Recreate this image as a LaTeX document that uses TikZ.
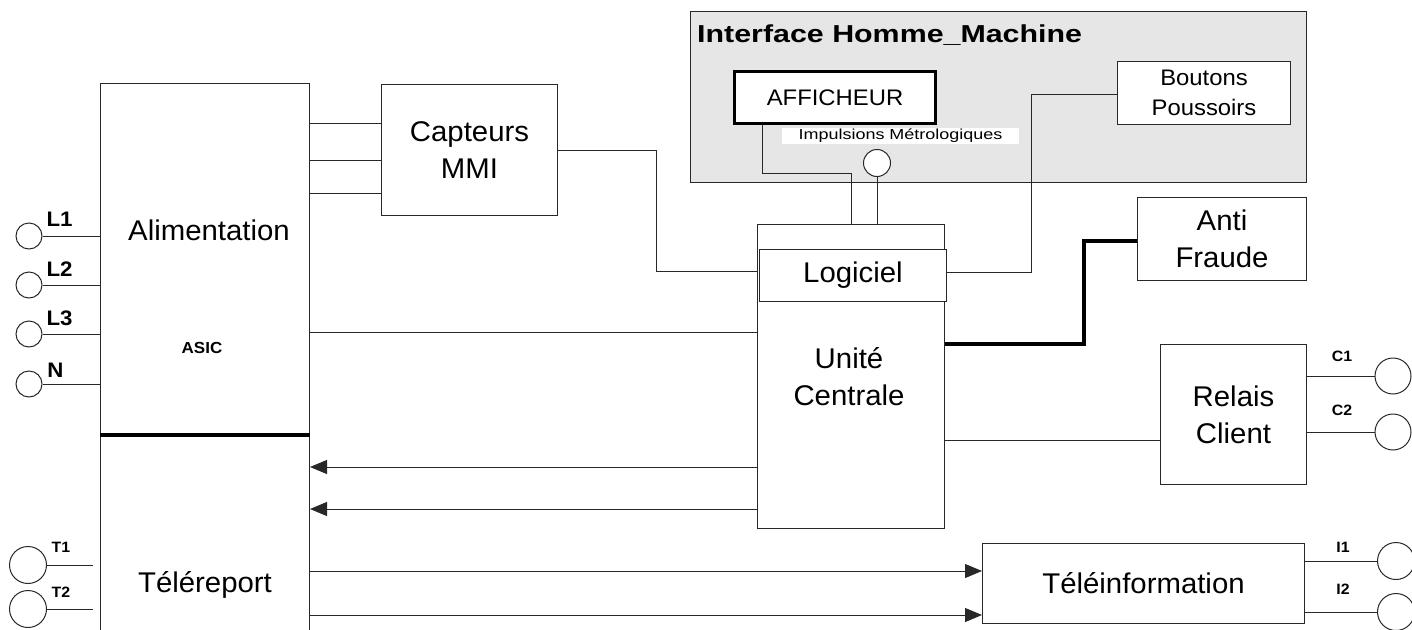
\documentclass[tikz,border=0pt]{standalone}
\usepackage{fontspec}
\setmainfont{Liberation Sans}
\newfontfamily\lab[FakeStretch=1.03]{Liberation Sans}
\newfontfamily\labm[FakeStretch=1.06]{Liberation Sans}
\newfontfamily\labw[FakeStretch=1.24]{Liberation Sans}
\usetikzlibrary{arrows.meta,calc}
\definecolor{ihmgray}{RGB}{230,230,230}
\definecolor{ln}{RGB}{40,40,40}
\begin{document}
\begin{tikzpicture}[x=1pt,y=-1pt,
  box/.style={draw=ln,line width=1pt,fill=white,inner sep=0pt,anchor=north west},
  wire/.style={draw=ln,line width=1pt},
  thickwire/.style={draw=black,line width=4pt,line join=miter},
  arr/.style={wire,-{Triangle[length=17pt,width=14pt]}},
  port/.style={circle,draw=ln,line width=1pt,fill=white,inner sep=0pt},
  big/.style={font=\lab\fontsize{28.5}{37}\selectfont,align=center},
  mid/.style={font=\labm\fontsize{22.5}{30}\selectfont,align=center},
  plab/.style={font=\labm\bfseries\fontsize{21}{24}\selectfont,inner sep=0pt},
  slab/.style={font=\labm\bfseries\fontsize{15}{17}\selectfont,inner sep=0pt}
]
\useasboundingbox (0,0) rectangle (1412,629);
\clip (0,0) rectangle (1412,629);

% Interface Homme_Machine frame
\node[box,fill=ihmgray,minimum width=616pt,minimum height=171pt] (ihm) at (690,11) {};
\node[font=\labw\bfseries\fontsize{24.5}{28}\selectfont,anchor=west,inner sep=0pt] (ihmtitle) at (697,35) {Interface Homme\_Machine};
\node[fill=white,inner sep=0pt,minimum width=237pt,minimum height=16pt,font=\labw\fontsize{14.5}{16}\selectfont] (implab) at (900.5,136) {Impulsions Métrologiques};

% main boxes
\node[box,minimum width=209pt,minimum height=351pt] (alim) at (100,83) {};
\node[box,minimum width=209pt,minimum height=230pt] (telerep) at (100,434) {};
\node[box,minimum width=176pt,minimum height=131pt,big] (capt) at (381,84) {};
\node[box,minimum width=187pt,minimum height=304pt] (uc) at (757,224) {};
\node[box,minimum width=187pt,minimum height=52pt,big] (logi) at (759,249) {Logiciel};
\node[box,minimum width=201pt,minimum height=52pt,line width=3pt,draw=black,mid] (aff) at (733,70) {AFFICHEUR};
\node[box,minimum width=173pt,minimum height=63pt,mid] (bout) at (1117,61) {Boutons\\Poussoirs};
\node[box,minimum width=169pt,minimum height=83pt,big] (anti) at (1137,197) {Anti\\Fraude};
\node[box,minimum width=146pt,minimum height=140pt,big] (relais) at (1160,344) {Relais\\Client};
\node[box,minimum width=322pt,minimum height=80pt,big] (teli) at (982,543) {Téléinformation};
\node[big] (capttxt) at (capt.center) {Capteurs\\MMI};

% texts inside large boxes
\node[big] (alimtxt) at (209,230) {Alimentation};
\node[font=\labm\bfseries\fontsize{16}{19}\selectfont] (asic) at (202,348) {ASIC};
\node[big] (teletxt) at (205,585) {Téléreport};
\node[big] (uctxt) at (849,377) {Unité\\Centrale};

% ports
\node[port,minimum size=27pt] (imp) at (877,163) {};
\node[port,minimum size=26pt] (l1) at (29,236) {};
\node[port,minimum size=26pt] (l2) at (29,285) {};
\node[port,minimum size=26pt] (l3) at (29,334) {};
\node[port,minimum size=26pt] (nn) at (29,384) {};
\node[port,minimum size=37pt] (t1) at (28,565) {};
\node[port,minimum size=37pt] (t2) at (28,609) {};
\node[port,minimum size=36pt] (c1) at (1393,376) {};
\node[port,minimum size=36pt] (c2) at (1393,432) {};
\node[port,minimum size=37pt] (i1) at (1396,561) {};
\node[port,minimum size=37pt] (i2) at (1396,612) {};
\coordinate (t1end) at (93,565);
\coordinate (t2end) at (93,609);

% port labels
\node[plab] (l1t) at (59.5,219) {L1};
\node[plab] (l2t) at (59.5,269) {L2};
\node[plab] (l3t) at (59.5,318) {L3};
\node[plab] (nt) at (55.5,370) {N};
\node[slab] (t1t) at (61,547) {T1};
\node[slab] (t2t) at (61,592) {T2};
\node[slab] (c1t) at (1342,356) {C1};
\node[slab] (c2t) at (1342,410) {C2};
\node[slab] (i1t) at (1343,547) {I1};
\node[slab] (i2t) at (1343,589) {I2};

% connectors
\draw[wire] (l1.east) -- (alim.west |- l1.east);
\draw[wire] (l2.east) -- (alim.west |- l2.east);
\draw[wire] (l3.east) -- (alim.west |- l3.east);
\draw[wire] (nn.east) -- (alim.west |- nn.east);
\draw[wire] (t1.east) -- (t1end);
\draw[wire] (t2.east) -- (t2end);

\draw[wire] (alim.east |- 0,123) -- (capt.west |- 0,123);
\draw[wire] (alim.east |- 0,160) -- (capt.west |- 0,160);
\draw[wire] (alim.east |- 0,193) -- (capt.west |- 0,193);
\draw[wire] (capt.east |- 0,150) -| (656,271) -- (uc.west |- 0,271);
\draw[wire] (alim.east |- 0,332) -- (uc.west |- 0,332);
\draw[arr] (uc.west |- 0,467) -- (telerep.east |- 0,467);
\draw[arr] (uc.west |- 0,509) -- (telerep.east |- 0,509);
\draw[arr] (telerep.east |- 0,571) -- (teli.west |- 0,571);
\draw[arr] (telerep.east |- 0,615) -- (teli.west |- 0,615);

\draw[wire] (aff.south -| 762,0) |- (851,173) -- (uc.north -| 851,0);
\draw[wire] (imp.south) -- (uc.north -| imp.south);
\draw[wire] (logi.east |- 0,272) -| (1031,94) -- (bout.west |- 0,94);
\draw[thickwire] (uc.east |- 0,344) -| (1084,241) -- (anti.west |- 0,241);
\draw[wire] (uc.east |- 0,440) -- (relais.west |- 0,440);
\draw[wire] (relais.east |- c1.west) -- (c1.west);
\draw[wire] (relais.east |- c2.west) -- (c2.west);
\draw[wire] (teli.east |- i1.west) -- (i1.west);
\draw[wire] (teli.east |- i2.west) -- (i2.west);

% separator Alimentation / Téléreport
\draw[thickwire] (alim.south west) -- (alim.south east);
\end{tikzpicture}
\end{document}
